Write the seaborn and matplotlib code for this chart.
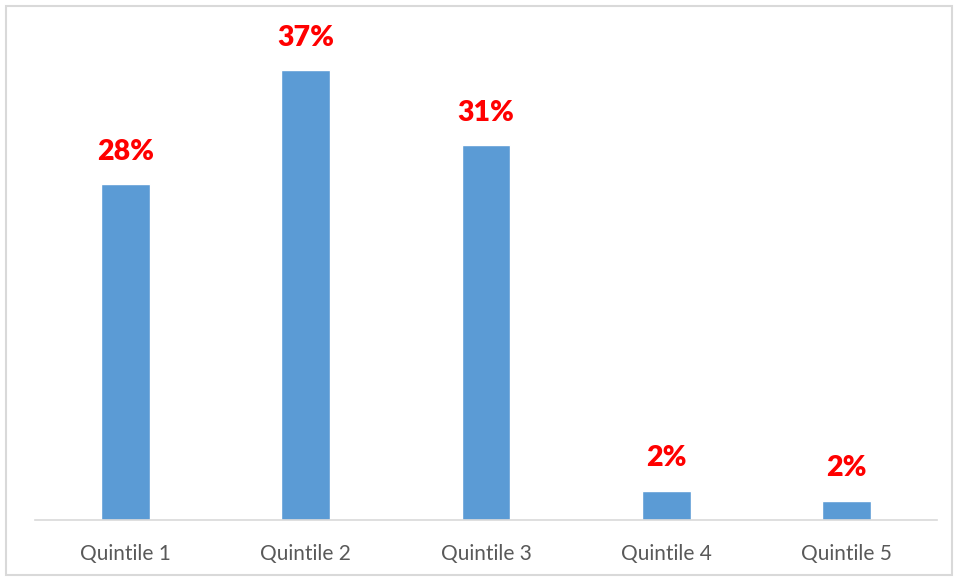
import matplotlib
matplotlib.use("Agg")
import matplotlib.pyplot as plt
import seaborn as sns
import pandas as pd
from matplotlib.patches import Rectangle

categories = ["Quintile 1", "Quintile 2", "Quintile 3", "Quintile 4", "Quintile 5"]
values = [27.6, 37.0, 30.8, 2.4, 1.6]
labels = ["28%", "37%", "31%", "2%", "2%"]

df = pd.DataFrame({"cat": categories, "val": values})

sns.set_style("white")
plt.rcParams["font.family"] = ["Lato", "DejaVu Sans"]

fig = plt.figure(figsize=(9.55, 5.79), dpi=100)
ax = fig.add_axes([35 / 955, 59 / 579, 902 / 955, (545.4 - 59) / 579])

sns.barplot(data=df, x="cat", y="val", color="#5B9BD5", saturation=1,
            width=0.27, ax=ax)

ax.set_ylim(0, 40)
ax.set_xlim(-0.5, 4.5)
ax.set_xlabel("")
ax.set_ylabel("")
ax.set_yticks([])
for s in ["top", "right", "left"]:
    ax.spines[s].set_visible(False)
ax.spines["bottom"].set_color("#D9D9D9")
ax.spines["bottom"].set_linewidth(1.2)
ax.tick_params(axis="x", length=0, pad=17, labelsize=15, labelcolor="#595959")

for i, (v, lab) in enumerate(zip(values, labels)):
    ax.annotate(lab, (i, v), xytext=(0, 14), textcoords="offset points",
                ha="center", va="bottom", color="#FF0000",
                fontsize=20.5, fontweight="heavy")

fig.patches.append(Rectangle((6 / 955, 4 / 579), 946 / 955, 569 / 579,
                             transform=fig.transFigure, fill=False,
                             edgecolor="#D9D9D9", linewidth=1.5))

fig.savefig("out.png", dpi=100)
